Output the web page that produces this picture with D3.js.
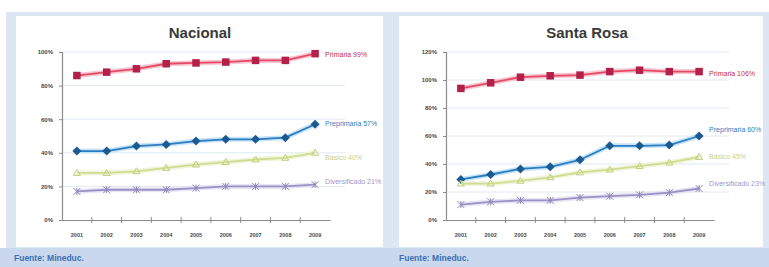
<!DOCTYPE html>
<html><head><meta charset="utf-8">
<script src="https://cdn.jsdelivr.net/npm/d3@7"></script>
<style>
html,body{margin:0;padding:0;background:#fff;}
svg{display:block;font-family:"Liberation Sans",Arial,sans-serif;}
</style></head>
<body>
<svg id="c" width="769" height="267"></svg>
<script>
const years = ["2001","2002","2003","2004","2005","2006","2007","2008","2009"];
const seriesNames = ["Primaria","Preprimaria","Básico","Diversificado"];

const nacionalPrimaria      = [86, 88, 90, 93, 93.5, 94, 95, 95, 99];
const nacionalPreprimaria   = [41, 41, 44, 45, 47, 48, 48, 49, 57];
const nacionalBasico        = [28, 28, 29, 31, 33, 34.5, 36, 37, 40];
const nacionalDiversificado = [17, 18, 18, 18, 19, 20, 20, 20, 21];
const nacionalLabels = ["Primaria 99%","Preprimaria 57%","Básico 40%","Diversificado 21%"];
const nacionalTicks = [0, 20, 40, 60, 80, 100];

const srPrimaria      = [94, 98, 102, 103, 103.5, 106, 107, 106, 106];
const srPreprimaria   = [29, 32.5, 36.5, 38, 43, 53, 53, 53.5, 60];
const srBasico        = [26, 26, 28, 30.5, 34, 36, 38.5, 41, 45];
const srDiversificado = [11, 13, 14, 14, 16, 17, 18, 19.5, 22.5];
const srLabels = ["Primaria 106%","Preprimaria 60%","Básico 45%","Diversificado 23%"];
const srTicks = [0, 20, 40, 60, 80, 100, 120];

const styles = [
  {line:"#e44a66", glow:"#f7b9c6", mark:"#b3204a", shape:"square", size:7.5, text:"#c0304f"},
  {line:"#2b7cc0", glow:"#b9def5", mark:"#1c5a92", shape:"diamond", size:4.5, text:"#2f7fc0"},
  {line:"#d0dc92", glow:"#eef3d2", mark:"#c0ce7c", shape:"tri", size:3.5, text:"#c6d18a"},
  {line:"#9b91c6", glow:"#e3e0f1", mark:"#8f86b8", shape:"cross", size:3.5, text:"#a095c8"}
];

const svg = d3.select("#c");
svg.append("rect").attr("x",0).attr("y",0).attr("width",769).attr("height",267).attr("fill","#ffffff");
svg.append("rect").attr("x",6).attr("y",12).attr("width",763).attr("height",255).attr("fill","#dde7f3");
svg.append("rect").attr("x",0).attr("y",248).attr("width",769).attr("height",19).attr("fill","#c9d8ec");
svg.append("text").attr("x",14).attr("y",261).attr("font-size",8.5).attr("font-weight","bold")
  .attr("fill","#3d6fb4").text("Fuente: Mineduc.");
svg.append("text").attr("x",399).attr("y",261).attr("font-size",8.5).attr("font-weight","bold")
  .attr("fill","#3d6fb4").text("Fuente: Mineduc.");

function panel(cfg){
  const g = svg.append("g");
  g.append("rect").attr("x",cfg.px).attr("y",16).attr("width",cfg.pw).attr("height",231).attr("fill","#ffffff");
  g.append("text").attr("x",cfg.tx).attr("y",38).attr("text-anchor","middle")
    .attr("font-size",15).attr("font-weight","bold").attr("fill","#3a3a3a").text(cfg.title);
  const x = d3.scaleBand().domain(years).range([cfg.x0, cfg.x1]);
  const y = d3.scaleLinear().domain([0, cfg.ymax]).range([220, 52]);
  g.append("g").selectAll("line").data(cfg.ticks.filter(t=>t>0)).join("line")
    .attr("x1",cfg.x0).attr("x2",cfg.x1+15).attr("y1",d=>y(d)).attr("y2",d=>y(d))
    .attr("stroke","#e2e9f0").attr("stroke-width",1);
  const ya = g.append("g").attr("transform",`translate(${cfg.x0},0)`)
    .call(d3.axisLeft(y).tickValues(cfg.ticks).tickFormat(d=>d+"%").tickSize(3).tickPadding(6));
  ya.select(".domain").attr("stroke","#8c8c8c").attr("stroke-width",1.2);
  ya.selectAll(".tick line").attr("stroke","#8c8c8c");
  ya.selectAll("text").attr("font-size",6).attr("font-weight","bold").attr("fill","#4a4a4a")
    .attr("font-family","'Liberation Sans',Arial,sans-serif");
  const xa = g.append("g").attr("transform","translate(0,220)")
    .call(d3.axisBottom(x).tickSize(0).tickPadding(13));
  xa.select(".domain").attr("stroke","#8c8c8c").attr("stroke-width",1.2);
  xa.selectAll("text").attr("font-size",5.5).attr("font-weight","bold").attr("fill","#4a4a4a")
    .attr("font-family","'Liberation Sans',Arial,sans-serif");
  g.append("g").selectAll("line").data(years.slice(1)).join("line")
    .attr("x1",d=>x(d)).attr("x2",d=>x(d)).attr("y1",217).attr("y2",223)
    .attr("stroke","#8c8c8c");
  const line = d3.line().x((d,i)=>x(years[i])+x.bandwidth()/2).y(d=>y(d));
  cfg.series.forEach((vals,si)=>{
    const s = styles[si];
    g.append("path").datum(vals).attr("d",line).attr("fill","none")
      .attr("stroke",s.glow).attr("stroke-width",5).attr("stroke-linejoin","round").attr("opacity",0.8);
    g.append("path").datum(vals).attr("d",line).attr("fill","none")
      .attr("stroke",s.line).attr("stroke-width",1.8).attr("stroke-linejoin","round");
    const mg = g.append("g");
    vals.forEach((v,i)=>{
      const cx = x(years[i])+x.bandwidth()/2, cy = y(v), r = s.size;
      if(s.shape==="square"){
        mg.append("rect").attr("x",cx-r/2).attr("y",cy-r/2).attr("width",r).attr("height",r).attr("fill",s.mark);
      } else if(s.shape==="diamond"){
        mg.append("path").attr("d",`M${cx},${cy-r}L${cx+r},${cy}L${cx},${cy+r}L${cx-r},${cy}Z`).attr("fill",s.mark);
      } else if(s.shape==="tri"){
        mg.append("path").attr("d",`M${cx},${cy-r}L${cx+r},${cy+r*0.7}L${cx-r},${cy+r*0.7}Z`)
          .attr("fill","none").attr("stroke",s.mark).attr("stroke-width",1);
      } else {
        mg.append("path").attr("d",`M${cx-r},${cy-r}L${cx+r},${cy+r}M${cx+r},${cy-r}L${cx-r},${cy+r}M${cx},${cy-r}L${cx},${cy+r}`)
          .attr("stroke",s.mark).attr("stroke-width",1);
      }
    });
    const lx = x(years[8])+x.bandwidth()/2 + 10;
    g.append("text").attr("x",lx).attr("y",y(vals[8])+cfg.dy[si]).attr("dy","0.35em")
      .attr("font-size",7).attr("fill",s.text).text(cfg.labels[si]);
  });
}

panel({px:16, pw:367, tx:200, title:"Nacional", x0:62, x1:330, ymax:100, ticks:nacionalTicks,
  series:[nacionalPrimaria,nacionalPreprimaria,nacionalBasico,nacionalDiversificado],
  labels:nacionalLabels, dy:[1,-1,5,-3]});
panel({px:399, pw:364, tx:587, title:"Santa Rosa", x0:446, x1:714, ymax:120, ticks:srTicks,
  series:[srPrimaria,srPreprimaria,srBasico,srDiversificado],
  labels:srLabels, dy:[2,-6,0,-5]});
</script>
</body></html>
